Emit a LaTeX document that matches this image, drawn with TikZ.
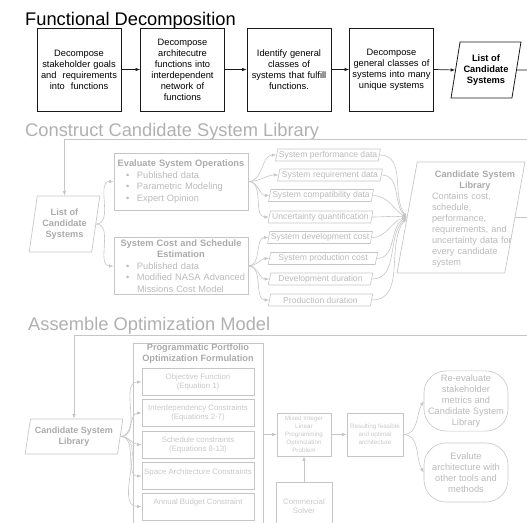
\documentclass[tikz,border=0pt]{standalone}
\usepackage{fontspec}
\setmainfont{Liberation Sans}
\usetikzlibrary{shapes.geometric,arrows.meta}
\definecolor{gline}{HTML}{C6C6C6}
\definecolor{gtext}{HTML}{BABABA}
\definecolor{gbold}{HTML}{AAAAAA}
\definecolor{gtitle}{HTML}{B0B0B0}
\definecolor{gsmall}{HTML}{C8C8C8}
\newcommand\bul{\hspace*{11pt}\makebox[11pt][l]{\textbullet}}

\begin{document}
\begin{tikzpicture}[x=1pt,y=-1pt,
  >={Latex[length=4.5pt,width=3.4pt]},
  fdbox/.style={draw=black!90, line width=0.8pt, minimum width=84pt, minimum height=83pt,
    text width=82pt, align=center, inner sep=1pt, font=\fontsize{9.3}{11}\selectfont},
  para/.style={trapezium, trapezium stretches=true, inner sep=1pt},
  gpara/.style={para, draw=gline, line width=0.7pt, text=gbold, align=center,
    font=\bfseries\fontsize{9.2}{11}\selectfont},
  datum/.style={para, draw=gline, line width=0.6pt, text=gtext, trapezium left angle=76,
    trapezium right angle=104, minimum width=105pt, minimum height=12pt, inner ysep=0.5pt,
    font=\fontsize{8.6}{10}\selectfont},
  gbox/.style={draw=gline, line width=0.7pt, text=gtext, inner xsep=1pt, inner ysep=2pt,
    text width=132pt, font=\fontsize{9.3}{11.4}\selectfont,
    execute at begin node={\parindent=0pt\raggedright}},
  cbox/.style={draw=gline, line width=0.6pt, text=gsmall, minimum width=112pt, minimum height=27pt,
    align=center, inner sep=1pt, font=\fontsize{7.8}{9}\selectfont},
  tinybox/.style={draw=gline, line width=0.6pt, text=gsmall, align=center, inner sep=1pt,
    font=\fontsize{6.3}{8}\selectfont},
  oval/.style={draw=gline, line width=0.6pt, rounded corners=22pt, minimum width=84pt,
    minimum height=60pt, align=center, text=gtext, font=\fontsize{9.3}{11.2}\selectfont},
  blk/.style={draw=black!90, line width=0.7pt, ->},
  gry/.style={draw=gline, line width=0.6pt, ->},
  sec/.style={anchor=base west, inner sep=0pt, font=\fontsize{18.3}{22}\selectfont}
]
\useasboundingbox (0,0) rectangle (527,522);

% ---------------- Functional Decomposition ----------------
\node[sec] (t1) at (25,25) {Functional Decomposition};
\node[fdbox] (f1) at (79,69.5) {Decompose\\stakeholder goals\\and\ \ requirements\\into\ \ functions};
\node[fdbox, minimum width=83pt] (f2) at (182.5,69.5) {Decompose\\architecutre\\functions into\\interdependent\\network of\\functions};
\node[fdbox] (f3) at (289,69.5) {Identify general\\classes of\\systems that fulfill\\functions.};
\node[fdbox, minimum width=83pt] (f4) at (391.5,69.5) {Decompose\\general classes of\\systems into many\\unique systems};
\node[para, draw=black!90, line width=0.8pt, trapezium left angle=76, trapezium right angle=104,
  minimum width=70pt, minimum height=56pt, align=center,
  font=\bfseries\fontsize{9.3}{11}\selectfont] (cand1) at (486,70) {List of\\Candidate\\Systems};
\coordinate (out1) at (527,70);
\draw[blk] (f1.east) -- (f2.west);
\draw[blk] (f2.east) -- (f3.west);
\draw[blk] (f3.east) -- (f4.west);
\draw[blk] (f4.east) -- (cand1.180);
\draw[blk, -] (cand1.0) -- (out1);

% ---------------- Construct Candidate System Library ----------------
\node[sec, text=gtitle] (t2) at (25,136) {Construct Candidate System Library};
\coordinate (in2) at (527,139);
\node[gpara, trapezium left angle=78, trapezium right angle=102, minimum width=71pt,
  minimum height=56pt] (cand2) at (64.5,224) {List of\\Candidate\\Systems};
\draw[gry] (in2) -| (cand2.90);

\node[gbox, minimum height=57pt] (eval) at (181,181.5)
  {{\centering\bfseries\color{gbold}Evaluate System Operations\par}
   \bul Published data\par\bul Parametric Modeling\par\bul Expert Opinion};
\node[gbox, minimum height=56pt] (cost) at (181,266)
  {{\centering\bfseries\color{gbold}System Cost and Schedule\\Estimation\par}
   \bul Published data\par\bul\mbox{Modified NASA Advanced}\par\hspace*{22pt}Missions Cost Model};

\draw[gry] (cand2.0) to[out=0,in=180] (eval.west);
\draw[gry] (cand2.0) to[out=0,in=180] (cost.west);

\node[datum] (d1) at (328,155) {System performance data};
\node[datum] (d2) at (330,175) {System requirement data};
\node[datum] (d3) at (321,195.5) {System compatibility data};
\node[datum] (d4) at (320.5,217) {Uncertainty quantification};
\node[datum] (d5) at (320,237.5) {System development cost};
\node[datum, minimum width=110pt] (d6) at (323,258.5) {System production cost};
\node[datum] (d7) at (320.5,279) {Development duration};
\node[datum] (d8) at (320.5,300) {Production duration};

\foreach \d in {d1,d2,d3,d4} \draw[gry] (eval.east) to[out=0,in=180] (\d.180);
\foreach \d in {d5,d6,d7,d8} \draw[gry] (cost.east) to[out=0,in=180] (\d.180);

\node[para, draw=gline, line width=0.7pt, trapezium left angle=77, trapezium right angle=103,
  minimum width=128pt, minimum height=111pt] (lib) at (461,217.5) {};
\node[text=gtext, text width=86pt, inner sep=0pt, font=\fontsize{9.2}{11}\selectfont,
  execute at begin node={\parindent=0pt\raggedright}] (libtxt) at (475,219.5)
  {{\centering\bfseries\color{gbold}\mbox{Candidate System}\\Library\par}
   Contains cost,\\schedule,\\performance,\\requirements, and\\uncertainty data for\\every candidate\\system};

\foreach \d/\a in {d1/125,d2/135,d3/150,d4/172,d5/192,d6/208,d7/222,d8/232}
  \draw[gry] (\d.0) to[out=0,in=\a] (lib.180);
\coordinate (out2) at (527,217.5);
\draw[gry, -] (lib.0) -- (out2);

% ---------------- Assemble Optimization Model ----------------
\node[sec, text=gtitle] (t3) at (28,330) {Assemble Optimization Model};
\coordinate (in3) at (527,335);
\node[gpara, trapezium left angle=77, trapezium right angle=103, minimum width=98pt,
  minimum height=35pt, font=\bfseries\fontsize{9}{11}\selectfont] (cand3) at (74,436.5)
  {Candidate System\\Library};
\draw[gry] (in3) -| (cand3.90);

\node[draw=gline, line width=0.7pt, minimum width=130pt, minimum height=182pt] (form) at (198,434) {};
\node[anchor=north, text=gbold, align=center, inner sep=0pt,
  font=\bfseries\fontsize{9.2}{11}\selectfont] (formt) at (198,344)
  {Programmatic Portfolio\\Optimization Formulation};

\node[cbox] (k1) at (198,382) {Objective Function\\(Equation 1)};
\node[cbox] (k2) at (198,413) {Interdependency Constraints\\(Equations 2-7)};
\node[cbox] (k3) at (198,444.5) {Schedule constraints\\(Equations 8-13)};
\node[cbox] (k4) at (198,476) {Space Architecture Constraints\\\mbox{}};
\node[cbox] (k5) at (198,506.5) {Annual Budget Constraint\\\mbox{}};
\foreach \k in {k1,k2,k3,k4,k5} \draw[gry] (cand3.0) to[out=0,in=180] (\k.west);

\node[tinybox, minimum width=54pt, minimum height=43pt] (milp) at (304,434.5)
  {Mixed Integer\\Linear\\Programming\\Optimization\\Problem};
\node[tinybox, minimum width=56pt, minimum height=43pt] (res) at (375,434.5)
  {Resulting feasible\\and optimal\\architecture};
\node[draw=gline, line width=0.6pt, text=gsmall, align=center, minimum width=56pt,
  minimum height=47pt, font=\fontsize{7.8}{9}\selectfont] (solver) at (304,506)
  {Commercial\\Solver};

\draw[gry] (milp.west -| form.east) -- (milp.west);
\draw[gry] (milp.east) -- (res.west);
\draw[gry] (solver.north) -- (milp.south);

\node[oval] (reev) at (466,401) {Re-evaluate\\stakeholder\\metrics and\\Candidate System\\Library};
\node[oval, minimum height=59pt] (evt) at (466,472.5) {Evalute\\architecture with\\other tools and\\methods};
\draw[gry] (res.east) to[out=0,in=240] (reev.west);
\draw[gry] (res.east) to[out=0,in=120] (evt.west);
\end{tikzpicture}
\end{document}
